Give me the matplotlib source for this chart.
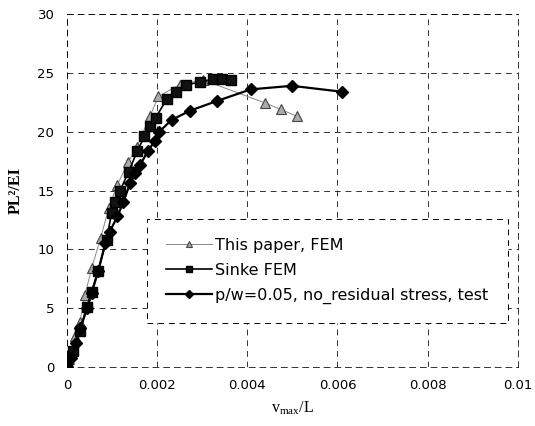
import matplotlib
matplotlib.use("Agg")
from matplotlib import pyplot as plt

# load-deflection data
paper_x = [0, 0.00005, 0.00018, 0.00029, 0.0004, 0.00055, 0.00075, 0.00093, 0.00112,
           0.00136, 0.00155, 0.00184, 0.00203, 0.0025, 0.00302, 0.00439, 0.00474, 0.00511]
paper_y = [0, 0.7, 2.6, 3.85, 6.1, 8.4, 11.0, 13.5, 15.5,
           17.4, 18.7, 21.3, 23.0, 24.0, 24.4, 22.45, 21.9, 21.3]

sinke_x = [0, 0.00014, 0.00029, 0.00044, 0.00055, 0.00069, 0.00088, 0.00099, 0.00106,
           0.00118, 0.00137, 0.00156, 0.00172, 0.00184, 0.00197, 0.00222, 0.00243,
           0.00265, 0.00295, 0.00324, 0.00343, 0.00365]
sinke_y = [0, 1.4, 3.1, 5.1, 6.4, 8.2, 10.8, 13.1, 14.0,
           15.0, 16.6, 18.35, 19.6, 20.5, 21.2, 22.8, 23.4,
           24.0, 24.2, 24.5, 24.5, 24.4]

test_x = [0, 0.0001, 0.0002, 0.0003, 0.00045, 0.00055, 0.0007, 0.00085, 0.00095, 0.00112,
          0.00125, 0.0014, 0.00152, 0.00163, 0.0018, 0.00195, 0.00205, 0.00232, 0.00274,
          0.00332, 0.00408, 0.00499, 0.00609]
test_y = [0, 0.8, 2.0, 3.3, 5.0, 6.3, 8.2, 10.5, 11.5, 12.8,
          14.0, 15.6, 16.5, 17.2, 18.4, 19.2, 20.0, 21.0, 21.8,
          22.6, 23.6, 23.9, 23.4]

labels = ["This paper, FEM", "Sinke FEM", "p/w=0.05, no_residual stress, test"]
x_ticks = [0, 0.002, 0.004, 0.006, 0.008, 0.01]
x_tick_labels = ["0", "0.002", "0.004", "0.006", "0.008", "0.01"]
y_ticks = [0, 5, 10, 15, 20, 25, 30]

plt.rcParams["mathtext.fontset"] = "custom"
plt.rcParams["mathtext.rm"] = "Liberation Serif"
plt.rcParams["mathtext.it"] = "Liberation Serif:italic"

fig = plt.figure(figsize=(5.35, 4.26), dpi=100)
ax = fig.add_axes([0.125, 0.1385, 0.843, 0.8285])

ax.plot(paper_x, paper_y, color="#888888", lw=0.7, marker="^", ms=7,
        mfc="#aaaaaa", mec="#444444", mew=0.8, label=labels[0], zorder=3)
ax.plot(sinke_x, sinke_y, color="black", lw=1.2, marker="s", ms=7.5,
        mfc="#111111", mec="black", label=labels[1], zorder=4)
ax.plot(test_x, test_y, color="black", lw=1.6, marker="D", ms=6.5,
        mfc="black", mec="black", label=labels[2], zorder=5)

ax.set_xlim(0, 0.01)
ax.set_ylim(0, 30)
ax.set_xticks(x_ticks)
ax.set_xticklabels(x_tick_labels)
ax.set_yticks(y_ticks)
ax.tick_params(length=0, pad=9, labelsize=9.5)
for lab in ax.get_xticklabels() + ax.get_yticklabels():
    lab.set_fontfamily("DejaVu Sans")

ax.grid(True, color="black", ls=(0, (6, 5)), lw=0.7, alpha=0.8)
for sp in ax.spines.values():
    sp.set_linestyle((0, (6, 5)))
    sp.set_linewidth(0.7)
    sp.set_alpha(0.8)

ax.set_xlabel(r"v$_{\mathrm{max}}$/L", fontfamily="Liberation Serif", fontsize=11.5, labelpad=5)
ax.set_ylabel("PL²/EI", fontfamily="Liberation Serif", fontsize=11.5, fontweight="bold", labelpad=10)

leg = ax.legend(loc="upper left", bbox_to_anchor=(0.177, 0.42), frameon=True,
                fancybox=False, prop={"family": "DejaVu Sans", "size": 11.5},
                handlelength=2.9, handletextpad=0.2, labelspacing=0.62,
                borderpad=1.2, borderaxespad=0, markerscale=0.6)
leg.get_frame().set_linestyle((0, (6, 5)))
leg.get_frame().set_edgecolor("black")
leg.get_frame().set_linewidth(0.7)
leg.get_frame().set_alpha(1)

fig.savefig("out.png", dpi=100)
